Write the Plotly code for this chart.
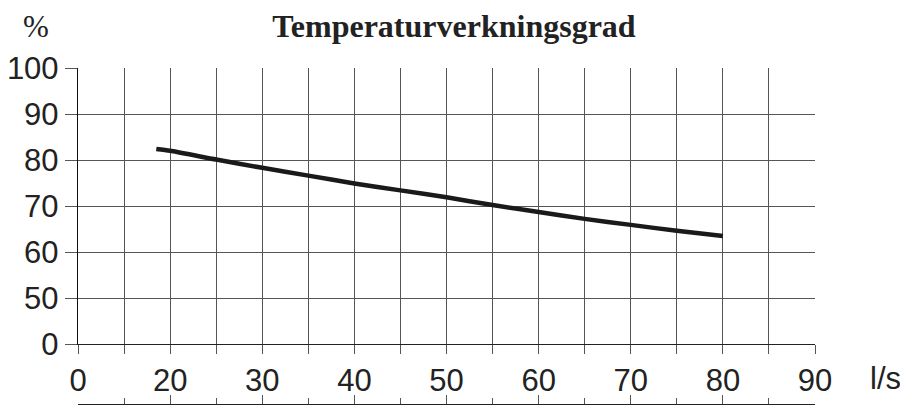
import plotly.graph_objects as go

# Data
flow = [18.5, 20, 25, 30, 35, 40, 45, 50, 55, 60, 65, 70, 75, 80]
efficiency = [82.4, 82.0, 80.1, 78.3, 76.6, 74.9, 73.4, 71.9, 70.2, 68.7, 67.2, 65.9, 64.6, 63.5]

x_tickvals = [10, 15, 20, 25, 30, 35, 40, 45, 50, 55, 60, 65, 70, 75, 80, 85, 90]
x_ticktext = ["0", "", "20", "", "30", "", "40", "", "50", "", "60", "", "70", "", "80", "", "90"]
x_major = [10, 20, 30, 40, 50, 60, 70, 80, 90]
x_minor = [15, 25, 35, 45, 55, 65, 75, 85]
y_tickvals = [40, 50, 60, 70, 80, 90, 100]
y_ticktext = ["0", "50", "60", "70", "80", "90", "100"]

title_text = "<b>Temperaturverkningsgrad</b>"
y_unit = "%"
x_unit = "l/s"

# the page has an 8px body margin, so the figure is 8px smaller than the window
OFF = 8
W, H = 908 - OFF, 410 - OFF
ml, mt = 78 - OFF, 68 - OFF
plot_right_px = 815 - OFF
axis2_px = 404 - OFF
plot_bottom_px = 344 - OFF
mr = W - plot_right_px
mb = H - axis2_px
paper_w = W - ml - mr
paper_h = H - mt - mb
y_dom0 = (axis2_px - plot_bottom_px) / paper_h

sans = "Liberation Sans, Arial, sans-serif"
serif = "Liberation Serif, Times New Roman, serif"
txt = "#222222"
grid = "#555555"

fig = go.Figure()
fig.add_trace(go.Scatter(
    x=flow, y=efficiency, mode="lines",
    line=dict(color="#1a1a1a", width=4.5, shape="spline", smoothing=0.6),
    hoverinfo="skip", showlegend=False,
))
# invisible trace to activate the secondary bottom axis
fig.add_trace(go.Scatter(
    x=flow, y=efficiency, xaxis="x2", mode="lines",
    line=dict(width=0), opacity=0, hoverinfo="skip", showlegend=False,
))

fig.update_layout(
    width=W, height=H,
    margin=dict(l=ml, r=mr, t=mt, b=mb, autoexpand=False),
    paper_bgcolor="white", plot_bgcolor="white",
    title=dict(text=title_text, x=(454 - OFF) / W, xref="container", xanchor="center",
               y=1 - (26 - OFF) / H, yref="container", yanchor="middle",
               font=dict(family=serif, size=32, color=txt)),
    xaxis=dict(
        range=[10, 90], anchor="y", automargin=False,
        tickmode="array", tickvals=x_tickvals, ticktext=x_ticktext,
        ticks="outside", ticklen=9, tickwidth=1.2, tickcolor=grid,
        showgrid=True, gridcolor=grid, gridwidth=1.2,
        showline=True, linecolor="#222222", linewidth=1.4,
        zeroline=False,
        tickfont=dict(family=sans, size=31, color=txt),
        ticklabelstandoff=0,
    ),
    xaxis2=dict(
        range=[10, 90], overlaying="x", anchor="free", position=0, side="bottom",
        automargin=False,
        tickmode="array", tickvals=x_major, ticktext=[""] * len(x_major),
        ticks="inside", ticklen=9, tickwidth=1.2, tickcolor=grid,
        minor=dict(tickmode="array", tickvals=x_minor, ticks="inside",
                   ticklen=6, tickwidth=1.2, tickcolor=grid, showgrid=False),
        showticklabels=False, showgrid=False, zeroline=False,
        showline=True, linecolor="#222222", linewidth=1.4,
    ),
    yaxis=dict(
        range=[40, 100], domain=[y_dom0, 1], automargin=False,
        tickmode="array", tickvals=y_tickvals, ticktext=y_ticktext,
        ticks="outside", ticklen=12, tickwidth=1.2, tickcolor=grid,
        showgrid=True, gridcolor=grid, gridwidth=1.2,
        showline=True, linecolor="#111111", linewidth=1.4,
        zeroline=False,
        tickfont=dict(family=sans, size=31, color=txt),
        ticklabelstandoff=0,
    ),
    annotations=[
        dict(text=y_unit, xref="paper", yref="paper",
             x=(36 - OFF - ml) / paper_w, y=(axis2_px - (26 - OFF)) / paper_h,
             xanchor="center", yanchor="middle", showarrow=False,
             font=dict(family=serif, size=31, color=txt)),
        dict(text=x_unit, xref="paper", yref="paper",
             x=(886 - OFF - ml) / paper_w, y=(axis2_px - (378 - OFF)) / paper_h,
             xanchor="center", yanchor="middle", showarrow=False,
             font=dict(family=sans, size=31, color=txt)),
    ],
)

fig.write_html("out.html")
